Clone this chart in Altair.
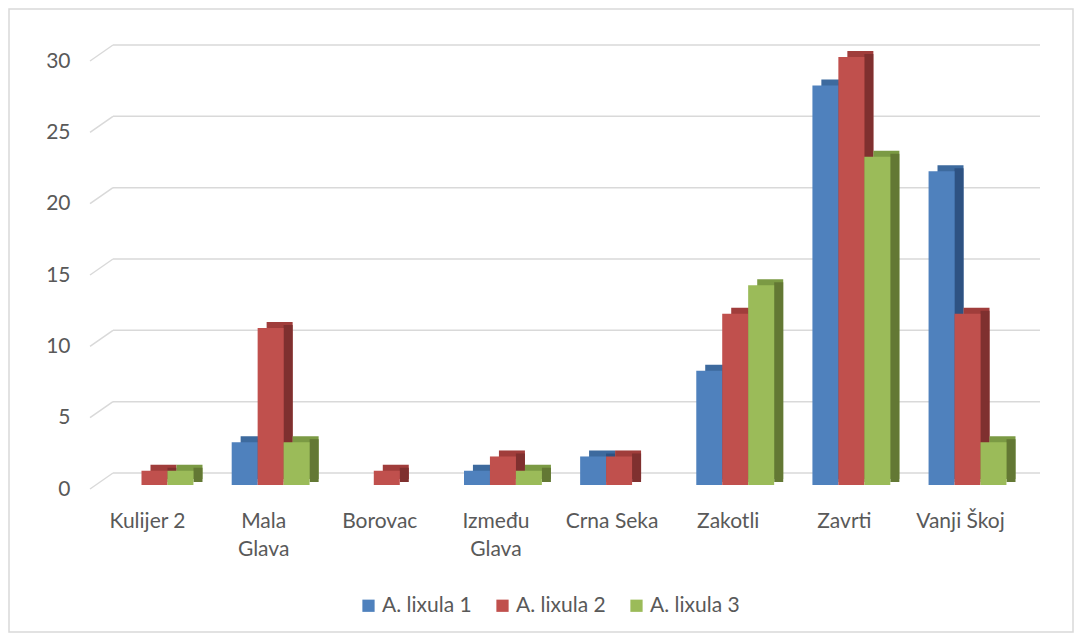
import altair as alt
import pandas as pd

categories = ["Kulijer 2", "Mala Glava", "Borovac", "Između Glava", "Crna Seka", "Zakotli", "Zavrti", "Vanji Škoj"]
series = ["A. lixula 1", "A. lixula 2", "A. lixula 3"]
s1 = [0, 3, 0, 1, 2, 8, 28, 22]
s2 = [1, 11, 1, 2, 2, 12, 30, 12]
s3 = [1, 3, 0, 1, 0, 14, 23, 3]
colors = ["#4f81bd", "#c0504d", "#9bbb59"]
top_colors = ["#3d6a9e", "#a03d3b", "#7b9a44"]
side_colors = ["#2e5282", "#7f302f", "#637834"]
y_ticks = [0, 5, 10, 15, 20, 25, 30]

rows = []
for i, c in enumerate(categories):
    for name, vals in zip(series, [s1, s2, s3]):
        rows.append({"cat": c, "series": name, "value": vals[i]})
df = pd.DataFrame(rows)
grid_df = pd.DataFrame({"v": y_ticks})

W, H = 928, 428
PL, PT, PR, PB = 89, 49, 49, 148
FONT = "Lato"
LABEL_C = "#595959"
GRID_C = "#d9d9d9"
BAR_W = 26
DEPTH_X, DEPTH_Y = 9, 6

yscale = alt.Scale(domain=[0, 30], nice=False)
xscale = alt.Scale(domain=categories, paddingInner=0.33, paddingOuter=0.16)

x_axis = alt.Axis(labelAngle=0, labelFontSize=21, labelColor=LABEL_C, labelFont=FONT,
                  ticks=False, domain=False, grid=False, labelPadding=25, labelLineHeight=28,
                  labelOffset=-7,
                  labelExpr="indexof(['Mala Glava','Između Glava'], datum.label) >= 0 ? split(datum.label, ' ') : datum.label")
y_axis = alt.Axis(values=y_ticks, labelFontSize=21, labelColor=LABEL_C, labelFont=FONT,
                  ticks=False, domain=False, grid=False, labelPadding=27, labelOffset=4)


def X():
    return alt.X("cat:N", sort=categories, title=None, scale=xscale, axis=x_axis)


def Yv():
    return alt.Y("value:Q", scale=yscale, axis=y_axis, title=None)


# back plane grid lines
grid = alt.Chart(grid_df).mark_rule(color=GRID_C, strokeWidth=1.5, yOffset=-12, y2Offset=-12).encode(
    y=alt.Y("v:Q", scale=yscale, axis=y_axis, title=None),
    y2="v:Q",
    x=alt.value(16), x2=alt.value(W + 15),
)
diag = alt.Chart(grid_df).mark_rule(color=GRID_C, strokeWidth=1.5, yOffset=4, y2Offset=-12).encode(
    y=alt.Y("v:Q", scale=yscale, axis=y_axis, title=None), y2="v:Q",
    x=alt.value(-7), x2=alt.value(16),
)

back_layers = []
for j, name in enumerate(series):
    shift = (j - 1) * BAR_W
    base = alt.Chart(df).transform_filter(alt.datum.series == name)
    back_layers.append(
        base.mark_bar(size=BAR_W, xOffset=shift + DEPTH_X, yOffset=-DEPTH_Y, y2Offset=-DEPTH_Y,
                      color=top_colors[j]).encode(x=X(), y=Yv())
    )
    back_layers.append(
        base.mark_bar(size=DEPTH_X, xOffset=shift + BAR_W / 2 + DEPTH_X / 2,
                      yOffset=-DEPTH_Y + 3, y2Offset=-DEPTH_Y + 3,
                      color=side_colors[j]).encode(x=X(), y=Yv())
    )

front = alt.Chart(df).mark_bar(size=BAR_W).encode(
    x=X(), xOffset=alt.XOffset("series:N", sort=series),
    y=Yv(),
    color=alt.Color("series:N", sort=series, scale=alt.Scale(domain=series, range=colors),
                    legend=alt.Legend(title=None, orient="none", direction="horizontal",
                                      legendX=261, legendY=538, symbolType="square", symbolSize=150,
                                      symbolStrokeWidth=0, labelFontSize=21, labelColor=LABEL_C,
                                      labelFont=FONT, columnPadding=20, labelOffset=3)),
)

border = alt.Chart(pd.DataFrame({"a": [0]})).mark_rect(fill=None, stroke=GRID_C, strokeWidth=1.5).encode(
    x=alt.value(-PL + 1), x2=alt.value(W + PR - 1), y=alt.value(-PT + 1), y2=alt.value(H + PB - 1)
)

chart = alt.layer(border, grid, diag, *back_layers, front).properties(
    width=W, height=H, autosize=alt.AutoSizeParams(type="none"),
    padding={"left": PL, "top": PT, "right": PR, "bottom": PB},
    background="white",
).configure_view(stroke=None)

chart.save("out.html", embed_options={"renderer": "svg", "actions": False})
